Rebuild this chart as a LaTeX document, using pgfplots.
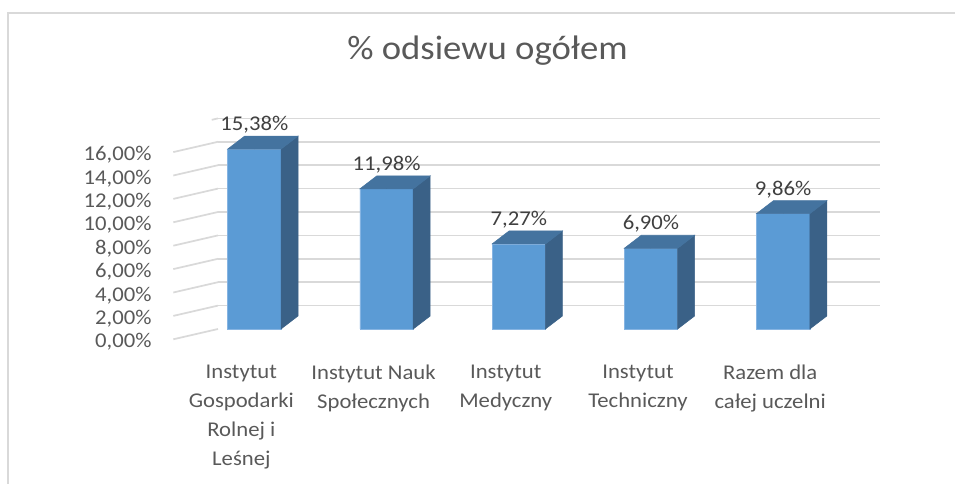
\documentclass[border=0pt]{standalone}
\usepackage{pgfplots}
\pgfplotsset{compat=1.18}
\usepackage{pgfplotstable}
\usepackage{fontspec}
\setmainfont{Carlito}[FakeStretch=1.08]
\definecolor{front}{HTML}{5B9BD5}
\definecolor{topc}{HTML}{44739F}
\definecolor{sidec}{HTML}{3A6187}
\definecolor{edgec}{HTML}{86B4E2}
\definecolor{gridc}{HTML}{D9D9D9}
\definecolor{labc}{HTML}{595959}
\definecolor{datc}{HTML}{404040}
\pgfplotstableread{
x y
0 15.38
1 11.98
2 7.27
3 6.90
4 9.86
}\datatable
\begin{document}
\begin{tikzpicture}
\useasboundingbox (0,0) rectangle (716.25pt,363pt);
\draw[gridc, line width=1.5pt] (6pt,-5pt) -- (6pt,353.5pt) -- (725pt,353.5pt);
\begin{axis}[
  at={(163.5pt,116.25pt)}, anchor=south west,
  x=99.15pt, y=8.775pt,
  xmin=-0.275, xmax=4.733, ymin=0, ymax=18,
  enlargelimits=false, clip=false,
  axis line style={draw=none}, major tick length=0pt,
  ymajorgrids, grid style={gridc, line width=1.3pt},
  ytick={2,4,...,18},
  yticklabels={{2,00\%},{4,00\%},{6,00\%},{8,00\%},{10,00\%},{12,00\%},{14,00\%},{16,00\%},{}},
  extra y ticks={0}, extra y tick style={grid=none, yticklabel={0,00\%}},
  yticklabel style={anchor=base east, inner sep=0pt, xshift=-49.7pt, yshift=-14.2pt,
    font=\fontsize{15.75}{21.75}\selectfont, text=labc},
  xtick={0,...,4},
  xticklabels={{Instytut\\Gospodarki\\Rolnej i\\Leśnej},{Instytut Nauk\\Społecznych},{Instytut\\Medyczny},{Instytut\\Techniczny},{Razem dla\\całej uczelni}},
  xticklabel style={anchor=north, inner sep=0pt, align=center, xshift=-9.75pt, yshift=-27pt,
    font=\fontsize{15.75}{21.75}\selectfont, text=labc},
  title={\% odsiewu ogółem},
  title style={at={(axis description cs:0.407,1.2408)}, anchor=base, inner sep=0pt,
    font=\fontsize{25.5}{30}\selectfont, text=labc},
  /pgf/number format/assume math mode=true,
]
% side wall gridlines
\addplot[gridc, line width=1.3pt, unbounded coords=jump, forget plot] coordinates {
 (-0.613,-0.88) (-0.275,0) (nan,nan)
 (-0.613,1.12) (-0.275,2) (nan,nan)
 (-0.613,3.12) (-0.275,4) (nan,nan)
 (-0.613,5.12) (-0.275,6) (nan,nan)
 (-0.613,7.12) (-0.275,8) (nan,nan)
 (-0.613,9.12) (-0.275,10) (nan,nan)
 (-0.613,11.12) (-0.275,12) (nan,nan)
 (-0.613,13.12) (-0.275,14) (nan,nan)
 (-0.613,15.12) (-0.275,16) (nan,nan)
 (-0.3227,17.877) (-0.275,18)
};
% front faces
\addplot[ybar, bar width=40pt, bar shift=0pt, fill=front, draw=edgec, line width=0.5pt,
  nodes near coords={\pgfmathprintnumber[fixed,fixed zerofill,precision=2,use comma]{\pgfplotspointmeta}\%},
  nodes near coords style={inner sep=0pt, yshift=11.7pt, font=\fontsize{15.75}{21.75}\selectfont, text=datc}]
  table[x=x,y=y] {\datatable};
% side and top faces
\addplot[scatter, only marks, mark=*, mark size=0pt, mark options={draw=none, fill=none},
  visualization depends on={y \as \barval},
  scatter/@pre marker code/.code={%
    \pgfmathsetmacro{\hh}{\barval*8.775}%
    \fill[sidec] (20pt,0pt) -- (32.75pt,9.75pt) -- (32.75pt,{9.75pt-\hh pt}) -- (20pt,{-\hh pt}) -- cycle;
    \fill[topc] (-20pt,0pt) -- (20pt,0pt) -- (32.75pt,9.75pt) -- (-7.25pt,9.75pt) -- cycle;
  },
  scatter/@post marker code/.code={}]
  table[x=x,y=y] {\datatable};
\end{axis}
\end{tikzpicture}
\end{document}
